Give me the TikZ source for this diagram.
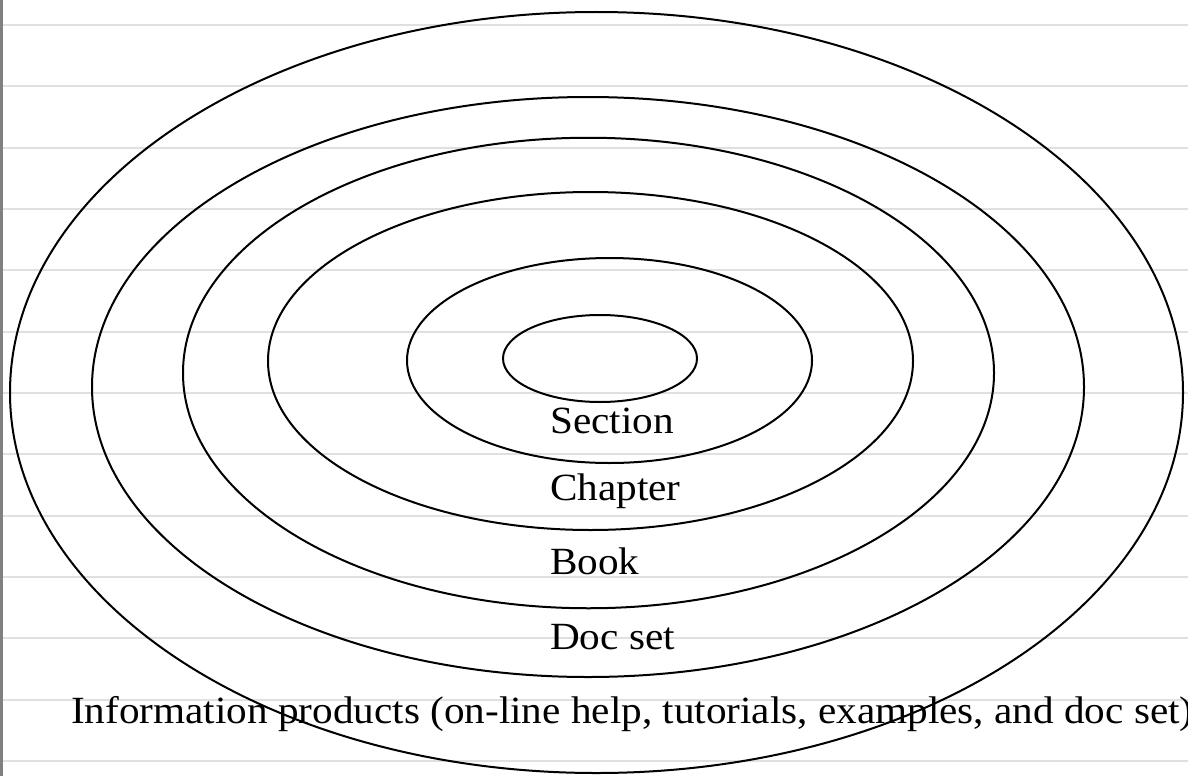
\documentclass[tikz,border=0pt]{standalone}
\usepackage{fontspec}
\setmainfont[FakeStretch=1.07]{Liberation Serif}
\usetikzlibrary{shapes.geometric}
\definecolor{rulegray}{RGB}{224,224,224}
\definecolor{bargray}{RGB}{128,128,128}
\begin{document}
\begin{tikzpicture}[x=1pt,y=-1pt,
  ring/.style={draw, ellipse, line width=2pt, inner sep=0pt, outer sep=0pt},
  lbl/.style={anchor=base west, inner sep=0pt, font=\fontsize{38.5}{42}\selectfont},
  rule/.style={line width=2pt, draw=rulegray}]
\useasboundingbox (0,0) rectangle (1188,776);
\fill[white] (0,0) rectangle (1188,776);
\foreach \k in {0,...,12} {
  \draw[rule] (3,{25+61.33*\k}) -- (1188,{25+61.33*\k});
}
\fill[bargray] (0,0) rectangle (3,776);
% labels
\node[lbl] (section) at (550,433) {Section};
\node[lbl] (chapter) at (550,500) {Chapter};
\node[lbl] (book)    at (550,574) {Book};
\node[lbl] (docset)  at (550,649) {Doc set};
\node[lbl] (info)    at (71,723)  {Information products (on-line help, tutorials, examples, and doc set)};
% rings
\node[ring, minimum width=1173pt, minimum height=761pt]   (outer)  at (596.5,392.5) {};
\node[ring, minimum width=992pt,  minimum height=580pt]   (second) at (588,387) {};
\node[ring, minimum width=811pt,  minimum height=470.5pt] (third)  at (588.5,373) {};
\node[ring, minimum width=645pt,  minimum height=338pt]   (fourth) at (590.5,361) {};
\node[ring, minimum width=405pt,  minimum height=205pt]   (fifth)  at (609.5,360.5) {};
\node[ring, minimum width=194pt,  minimum height=87pt]    (inner)  at (600,358.5) {};
\end{tikzpicture}
\end{document}
